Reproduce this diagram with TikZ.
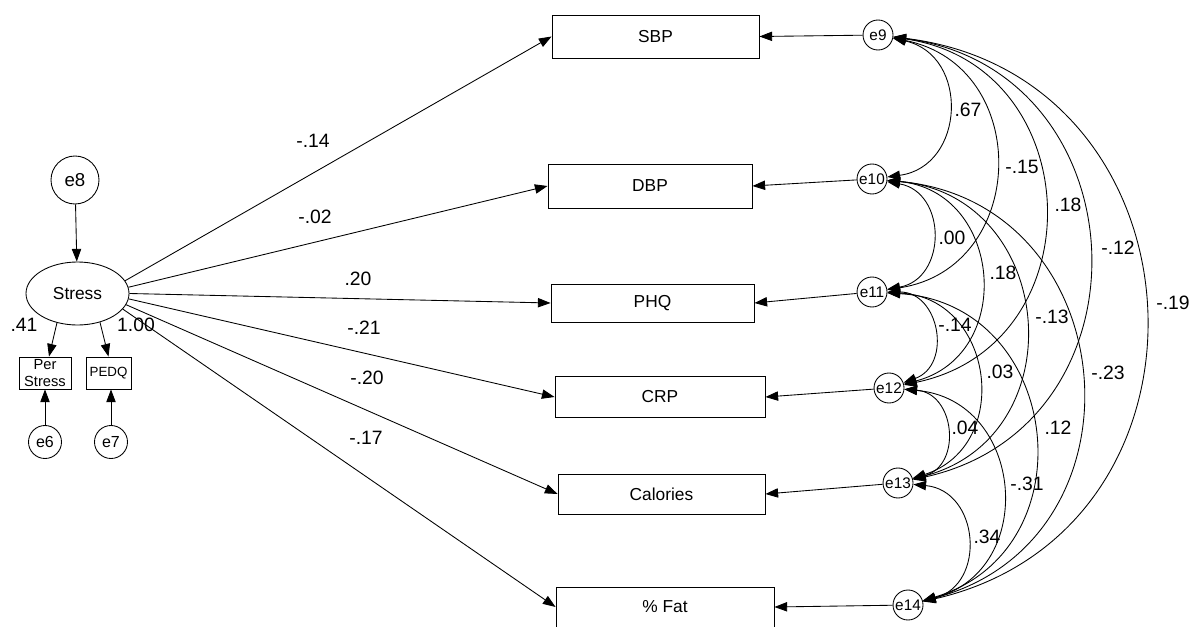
\documentclass[tikz,border=0pt]{standalone}
\usepackage{fontspec}
\setmainfont{Liberation Sans}
\usetikzlibrary{arrows.meta,shapes.geometric}
\begin{document}
\begin{tikzpicture}[x=0.75pt,y=0.75pt,line width=0.65pt,
  tip/.style={-{Triangle[length=9.5pt,width=7pt]}},
  cov/.style={{Triangle[length=9.5pt,width=7pt]}-{Triangle[length=9.5pt,width=7pt]},bend left=80,looseness=1.45},
  obs/.style={draw,rectangle,inner sep=0pt,font=\fontsize{13}{15}\selectfont},
  err/.style={draw,circle,inner sep=0pt,minimum size=22.5pt,font=\fontsize{11.5}{13}\selectfont},
  coef/.style={inner sep=0pt,font=\fontsize{14.5}{17}\selectfont}]
\useasboundingbox (0,0) rectangle (1194,626);
% observed variables
\node[obs,minimum width=155.25pt,minimum height=32.25pt] (sbp) at (655.5,589.5) {SBP};
\node[obs,minimum width=153pt,minimum height=33pt] (dbp) at (650,440) {DBP};
\node[obs,minimum width=152.25pt,minimum height=28.5pt] (phq) at (652.5,323) {PHQ};
\node[obs,minimum width=157.5pt,minimum height=30.75pt] (crp) at (660,229) {CRP};
\node[obs,minimum width=155.25pt,minimum height=30pt] (cal) at (661.5,132) {Calories};
\node[obs,minimum width=163.5pt,minimum height=30pt] (fat) at (665,19) {\% Fat};
% error terms
\node[err] (e9) at (878,591) {e9};
\node[err] (e10) at (872,447) {e10};
\node[err] (e11) at (872,334) {e11};
\node[err] (e12) at (889,238) {e12};
\node[err] (e13) at (898,143) {e13};
\node[err] (e14) at (908,21) {e14};
% left side
\node[draw,circle,inner sep=0pt,minimum size=36pt,font=\fontsize{14}{16}\selectfont] (e8) at (75,446) {e8};
\node[draw,ellipse,inner sep=0pt,minimum width=77.25pt,minimum height=47.25pt,font=\fontsize{13}{15}\selectfont] (stress) at (77.5,332.5) {Stress};
\node[draw,rectangle,inner sep=0pt,minimum width=39pt,minimum height=24pt,align=center,font=\fontsize{11}{13}\selectfont] (perstress) at (45,253) {Per\\Stress};
\node[draw,rectangle,inner sep=0pt,minimum width=33.75pt,minimum height=24pt,font=\fontsize{10}{12}\selectfont] (pedq) at (108.5,253) {PEDQ};
\node[draw,circle,inner sep=0pt,minimum size=24.75pt,font=\fontsize{12}{14}\selectfont] (e6) at (45,184) {e6};
\node[draw,circle,inner sep=0pt,minimum size=24.75pt,font=\fontsize{12}{14}\selectfont] (e7) at (111,184) {e7};
% left arrows
\draw[tip] (e8) -- (stress);
\draw[tip] (stress.-125) -- ([xshift=3pt]perstress.north);
\draw[tip] (stress.-52) -- (pedq.north);
\draw[tip] (e6) -- (perstress);
\draw[tip] (e7.north) -- (e7.north |- pedq.south);
% structural paths
\draw[tip] (stress.15) -- (sbp.west);
\draw[tip] (stress.7) -- (dbp.west);
\draw[tip] (stress.0) -- (phq.west);
\draw[tip] (stress.-6) -- (crp.west);
\draw[tip] (stress.-13) -- (cal.west);
\draw[tip] (stress.-19) -- (fat.west);
% error arrows
\draw[tip] (e9) -- (sbp.east);
\draw[tip] (e10) -- (dbp.east);
\draw[tip] (e11) -- (phq.east);
\draw[tip] (e12) -- (crp.east);
\draw[tip] (e13) -- (cal.east);
\draw[tip] (e14) -- (fat.east);
% covariances
\draw[cov] (e9) to (e10);
\draw[cov] (e9) to (e11);
\draw[cov] (e9) to (e12);
\draw[cov] (e9) to (e13);
\draw[cov] (e9) to (e14);
\draw[cov] (e10) to (e11);
\draw[cov] (e10) to (e12);
\draw[cov] (e10) to (e13);
\draw[cov] (e10) to (e14);
\draw[cov] (e11) to (e12);
\draw[cov] (e11) to (e13);
\draw[cov] (e11) to (e14);
\draw[cov] (e12) to (e13);
\draw[cov] (e12) to (e14);
\draw[cov] (e13) to (e14);
% loadings labels
\node[coef] (l41) at (24,301) {.41};
\node[coef] (l100) at (136,301) {1.00};
% path labels
\node[coef] (lsbp) at (313,485) {-.14};
\node[coef] (ldbp) at (315,409) {-.02};
\node[coef] (lphq) at (358,347) {.20};
\node[coef] (lcrp) at (364,298) {-.21};
\node[coef] (lcal) at (367,248) {-.20};
\node[coef] (lfat) at (366,188) {-.17};
% covariance labels
\node[coef] (c910) at (968,516) {.67};
\node[coef] (c911) at (1022,459) {-.15};
\node[coef] (c912) at (1068,421) {.18};
\node[coef] (c913) at (1118,378) {-.12};
\node[coef] (c914) at (1173,323) {-.19};
\node[coef] (c1011) at (952,388) {.00};
\node[coef] (c1012) at (1003,353) {.18};
\node[coef] (c1013) at (1052,309) {-.13};
\node[coef] (c1014) at (1108,253) {-.23};
\node[coef] (c1112) at (955,301) {-.14};
\node[coef] (c1113) at (1000,254) {.03};
\node[coef] (c1114) at (1058,198) {.12};
\node[coef] (c1213) at (965,198) {.04};
\node[coef] (c1214) at (1027,142) {-.31};
\node[coef] (c1314) at (987,89) {.34};
\end{tikzpicture}
\end{document}
